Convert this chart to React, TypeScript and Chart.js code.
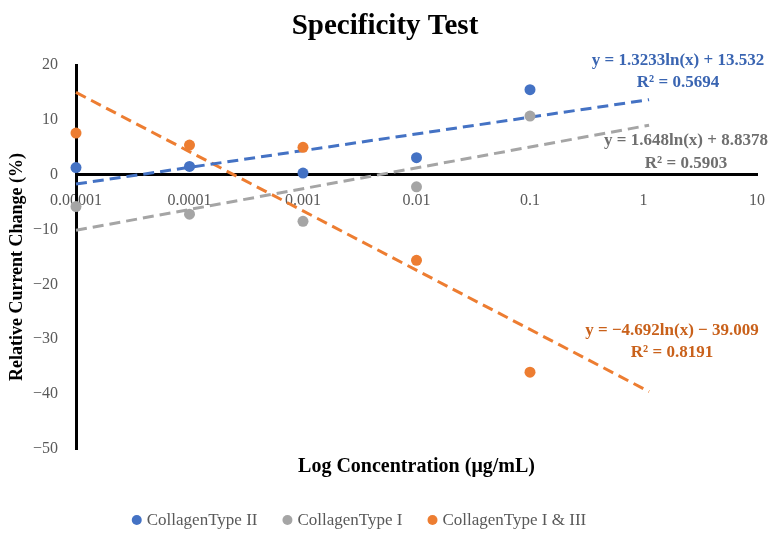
import { useEffect, useRef } from 'react';
import { Chart, registerables } from 'chart.js';

Chart.register(...registerables);

// Measured concentrations (µg/mL) and relative current change (%) per collagen type
const concentrations = [0.00001, 0.0001, 0.001, 0.01, 0.1];
const collagenTypeII = [1.3, 1.5, 0.3, 3.1, 15.5];
const collagenTypeI = [-5.8, -7.2, -8.5, -2.2, 10.7];
const collagenTypeI_III = [7.6, 5.4, 5.0, -15.6, -36.0];

const seriesNames = ['CollagenType II', 'CollagenType I', 'CollagenType I & III'];

// Logarithmic trendlines y = a·ln(x) + b
const trendSlopes = [1.3233, 1.648, -4.692];
const trendIntercepts = [13.532, 8.8378, -39.009];
const trendEquations = [
  'y = 1.3233ln(x) + 13.532',
  'y = 1.648ln(x) + 8.8378',
  'y = \u22124.692ln(x) \u2212 39.009',
];
const trendR2 = ['R\u00b2 = 0.5694', 'R\u00b2 = 0.5903', 'R\u00b2 = 0.8191'];
const trendRange = [0.00001, 1.12];

// Axis ticks
const xTickValues = [0.00001, 0.0001, 0.001, 0.01, 0.1, 1, 10];
const xTickLabels = ['0.00001', '0.0001', '0.001', '0.01', '0.1', '1', '10'];
const yTickValues = [20, 10, 0, -10, -20, -30, -40, -50];

const chartTitle = 'Specificity Test';
const xAxisTitle = 'Log Concentration (\u03bcg/mL)';
const yAxisTitle = 'Relative Current Change (%)';

const FONT = "'Liberation Serif', 'Times New Roman', serif";
const markerColors = ['#4472C4', '#A5A5A5', '#ED7D31'];
const equationColors = ['#3A65B2', '#6F6F6F', '#C9611B'];
// Equation label anchors (centre of equation line; R² line sits below)
const equationAnchors = [
  { x: 678, y: 61, dy: 22 },
  { x: 686, y: 141, dy: 23 },
  { x: 672, y: 331, dy: 22 },
];

const decorations = {
  id: 'decorations',
  afterDraw(chart: any) {
    const { ctx, chartArea } = chart;
    ctx.save();
    ctx.textAlign = 'center';
    ctx.textBaseline = 'middle';

    // chart title
    ctx.fillStyle = '#000000';
    ctx.font = `bold 29px ${FONT}`;
    ctx.fillText(chartTitle, 385, 27);

    // axis titles
    ctx.font = `bold 20px ${FONT}`;
    ctx.fillText(xAxisTitle, (chartArea.left + chartArea.right) / 2, chartArea.bottom + 18);
    ctx.font = `bold 18px ${FONT}`;
    ctx.save();
    ctx.translate(17, 267);
    ctx.rotate(-Math.PI / 2);
    ctx.fillText(yAxisTitle, 0, 0);
    ctx.restore();

    // trendline equations
    ctx.font = `bold 17px ${FONT}`;
    equationAnchors.forEach((a, i) => {
      ctx.fillStyle = equationColors[i];
      ctx.fillText(trendEquations[i], a.x, a.y);
      ctx.fillText(trendR2[i], a.x, a.y + a.dy);
    });

    // legend
    ctx.font = `17px ${FONT}`;
    ctx.textAlign = 'left';
    const r = 5;
    const gap = 5;
    const spacing = 25;
    const widths = seriesNames.map((n) => ctx.measureText(n).width);
    const total = widths.reduce((s, w) => s + 2 * r + gap + w, 0) + spacing * (seriesNames.length - 1);
    let x = 359 - total / 2;
    const y = 520;
    seriesNames.forEach((n, i) => {
      ctx.fillStyle = markerColors[i];
      ctx.beginPath();
      ctx.arc(x + r, y, r, 0, Math.PI * 2);
      ctx.fill();
      ctx.fillStyle = '#595959';
      ctx.fillText(n, x + 2 * r + gap, y + 1);
      x += 2 * r + gap + widths[i] + spacing;
    });
    ctx.restore();
  },
};

export default function App() {
  const canvasRef = useRef<HTMLCanvasElement | null>(null);

  useEffect(() => {
    const canvas = canvasRef.current;
    if (!canvas) return;
    const series = [collagenTypeII, collagenTypeI, collagenTypeI_III];

    const pointSets = series.map((vals, i) => ({
      label: seriesNames[i],
      data: concentrations.map((c, j) => ({ x: c, y: vals[j] })),
      backgroundColor: markerColors[i],
      borderColor: markerColors[i],
      pointRadius: 5.5,
      pointBorderWidth: 0,
      showLine: false,
      clip: false as any,
      order: 1,
    }));

    const trendSets = trendSlopes.map((a, i) => ({
      label: seriesNames[i] + ' trend',
      data: trendRange.map((x) => ({ x, y: a * Math.log(x) + trendIntercepts[i] })),
      borderColor: markerColors[i],
      backgroundColor: markerColors[i],
      borderWidth: 3,
      borderDash: [11, 6],
      pointRadius: 0,
      showLine: true,
      clip: false as any,
      order: 2,
    }));

    const chart = new Chart(canvas, {
      type: 'scatter',
      data: { datasets: [...trendSets, ...pointSets] as any },
      options: {
        responsive: false,
        animation: false,
        events: [],
        layout: { padding: { top: 65, right: 21, bottom: 89, left: 0 } },
        plugins: {
          legend: { display: false },
          title: { display: false },
          tooltip: { enabled: false },
        },
        scales: {
          x: {
            type: 'logarithmic',
            position: { y: 0 } as any,
            min: 0.00001,
            max: 10,
            afterFit: (s: any) => {
              s.height = 0;
            },
            afterBuildTicks: (s: any) => {
              s.ticks = xTickValues.map((v) => ({ value: v }));
            },
            grid: { display: false, drawTicks: false },
            border: { display: true, color: '#000000', width: 3 },
            ticks: {
              autoSkip: false,
              maxRotation: 0,
              padding: 16,
              color: '#595959',
              font: { family: FONT, size: 16 },
              callback: (v: any) => {
                const idx = xTickValues.findIndex((t) => Math.abs(t - v) / t < 1e-6);
                return idx >= 0 ? xTickLabels[idx] : '';
              },
            },
          },
          y: {
            type: 'linear',
            position: 'left',
            min: -50,
            max: 20,
            afterFit: (s: any) => {
              s.width = 76;
            },
            afterBuildTicks: (s: any) => {
              s.ticks = yTickValues.map((v) => ({ value: v }));
            },
            grid: { display: false, drawTicks: false },
            border: { display: true, color: '#000000', width: 3 },
            ticks: {
              padding: 18,
              color: '#595959',
              font: { family: FONT, size: 16 },
              callback: (v: any) => (v < 0 ? '\u2212' + Math.abs(v) : String(v)),
            },
          },
        },
      },
      plugins: [decorations],
    });

    return () => chart.destroy();
  }, []);

  return (
    <div style={{ position: 'absolute', left: 0, top: 0, width: 781, height: 538, background: '#ffffff' }}>
      <canvas ref={canvasRef} width={781} height={538} style={{ display: 'block' }} />
    </div>
  );
}
